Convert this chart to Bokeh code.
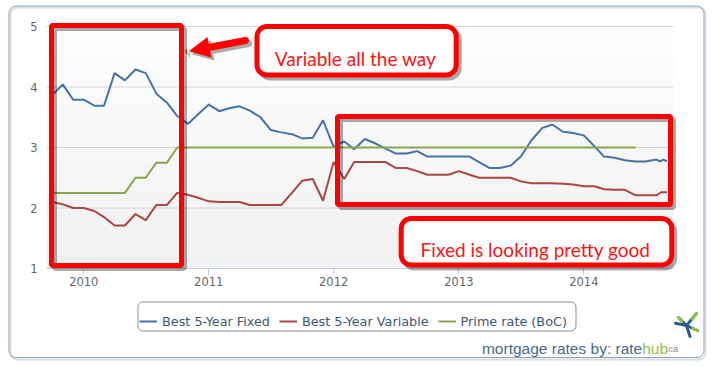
from datetime import datetime
import pandas as pd
from bokeh.plotting import figure
from bokeh.models import (Range1d, FixedTicker, DatetimeTickFormatter, BoxAnnotation,
                          Label, Arrow, NormalHead, Legend, LegendItem)
from bokeh.embed import file_html
from bokeh.resources import INLINE

# ---------------- data ----------------
fixed_dates = list(pd.date_range("2009-10-01", "2014-08-01", freq="MS")) + [
    pd.Timestamp("2014-08-12"), pd.Timestamp("2014-08-21"), pd.Timestamp("2014-09-01")]
fixed_rate = [3.87, 4.04, 3.79, 3.79, 3.69, 3.69, 4.23, 4.11, 4.29, 4.23,
              3.89, 3.74, 3.52, 3.39, 3.55, 3.71, 3.60, 3.65, 3.68, 3.61,
              3.50, 3.29, 3.25, 3.22, 3.15, 3.16, 3.45, 3.01, 3.10, 2.97,
              3.14, 3.07, 2.98, 2.90, 2.90, 2.94, 2.85, 2.85, 2.85, 2.85,
              2.85, 2.76, 2.66, 2.66, 2.70, 2.85, 3.12, 3.32, 3.38, 3.26,
              3.24, 3.20, 3.02, 2.85, 2.83, 2.79, 2.77, 2.77, 2.80,
              2.77, 2.80, 2.77]

variable_dates = list(pd.date_range("2009-10-01", "2014-08-01", freq="MS")) + [
    pd.Timestamp("2014-08-15"), pd.Timestamp("2014-09-01")]
variable_rate = [2.10, 2.06, 2.00, 2.00, 1.95, 1.85, 1.71, 1.71, 1.90, 1.80,
                 2.05, 2.05, 2.25, 2.22, 2.17, 2.11, 2.10, 2.10, 2.10, 2.05,
                 2.05, 2.05, 2.05, 2.25, 2.45, 2.48, 2.12, 2.76, 2.48, 2.76,
                 2.76, 2.76, 2.76, 2.66, 2.66, 2.61, 2.55, 2.55, 2.55, 2.61,
                 2.55, 2.50, 2.50, 2.50, 2.50, 2.44, 2.41, 2.41, 2.41, 2.40,
                 2.39, 2.36, 2.36, 2.31, 2.30, 2.30, 2.21, 2.21, 2.21,
                 2.26, 2.26]

prime_dates = list(pd.date_range("2009-10-01", "2014-06-01", freq="MS"))
prime_rate = [2.25, 2.25, 2.25, 2.25, 2.25, 2.25, 2.25, 2.25, 2.50, 2.50,
              2.75, 2.75, 3.00, 3.00, 3.00, 3.00, 3.00, 3.00, 3.00, 3.00,
              3.00, 3.00, 3.00, 3.00, 3.00, 3.00, 3.00, 3.00, 3.00, 3.00,
              3.00, 3.00, 3.00, 3.00, 3.00, 3.00, 3.00, 3.00, 3.00, 3.00,
              3.00, 3.00, 3.00, 3.00, 3.00, 3.00, 3.00, 3.00, 3.00, 3.00,
              3.00, 3.00, 3.00, 3.00, 3.00, 3.00, 3.00]

series_names = ["Best 5-Year Fixed", "Best 5-Year Variable", "Prime rate (BoC)"]
series_colors = ["#4572A7", "#AA4643", "#89A54E"]
year_ticks = ["2010", "2011", "2012", "2013", "2014"]
y_ticks = [1, 2, 3, 4, 5]
note_variable = "Variable all the way"
note_fixed = "Fixed is looking pretty good"

# ---------------- geometry ----------------
W, H = 716, 367
PL, PR, PT, PB = 46, 673, 26, 268            # plot area in canvas pixels
x0_ms = pd.Timestamp("2009-09-14").timestamp() * 1000
x1_ms = pd.Timestamp("2014-09-20").timestamp() * 1000
ms_per_px = (x1_ms - x0_ms) / (PR - PL)
y_lo, y_hi = y_ticks[0], y_ticks[-1]
val_per_px = (y_hi - y_lo) / (PB - PT)

p = figure(width=W, height=H, x_axis_type="datetime",
           x_range=Range1d(x0_ms - PL * ms_per_px, x1_ms + (W - PR) * ms_per_px),
           y_range=Range1d(y_lo - (H - PB) * val_per_px, y_hi + PT * val_per_px),
           output_backend="svg", toolbar_location=None,
           min_border_left=0, min_border_right=0, min_border_top=0, min_border_bottom=0)
p.title.visible = False
p.background_fill_color = "white"
p.border_fill_color = "white"
p.outline_line_color = None
p.xgrid.visible = False
p.ygrid.visible = False

# plot-area background (soft vertical gradient)
n_bands = 16
for i in range(n_bands):
    t = i / (n_bands - 1)
    g = int(round(241 + (253 - 241) * t))
    p.add_layout(BoxAnnotation(left=x0_ms, right=x1_ms,
                               bottom=y_lo + (y_hi - y_lo) * i / n_bands,
                               top=y_lo + (y_hi - y_lo) * (i + 1) / n_bands,
                               fill_color="#%02x%02x%02x" % (g, g, g), fill_alpha=1.0,
                               line_color=None, level="underlay"))

# horizontal grid lines limited to the plot area
p.segment(x0=[x0_ms] * len(y_ticks), y0=y_ticks, x1=[x1_ms] * len(y_ticks), y1=y_ticks,
          line_color="#d4d4d4", line_width=1)

# axes fixed on the plot-area edges
p.yaxis.fixed_location = x0_ms
p.yaxis.bounds = (y_lo, y_hi)
p.yaxis.ticker = FixedTicker(ticks=y_ticks)
p.yaxis.axis_line_color = None
p.yaxis.major_tick_line_color = None
p.yaxis.major_tick_out = 0
p.yaxis.major_tick_in = 0
p.yaxis.minor_tick_line_color = None
p.yaxis.major_label_standoff = 9
p.yaxis.major_label_text_font = "DejaVu Sans"
p.yaxis.major_label_text_font_size = "11.5px"
p.yaxis.major_label_text_color = "#666666"

p.xaxis.fixed_location = y_lo
p.xaxis.bounds = (x0_ms, x1_ms)
p.xaxis.ticker = FixedTicker(ticks=[pd.Timestamp(y + "-01-01").timestamp() * 1000 for y in year_ticks])
p.xaxis.formatter = DatetimeTickFormatter(years="%Y", months="%Y", days="%Y", hours="%Y")
p.xaxis.axis_line_color = "#c0d0e0"
p.xaxis.major_tick_line_color = "#c0d0e0"
p.xaxis.major_tick_out = 6
p.xaxis.major_tick_in = 0
p.xaxis.minor_tick_line_color = None
p.xaxis.major_label_standoff = 2
p.xaxis.major_label_text_font = "DejaVu Sans"
p.xaxis.major_label_text_font_size = "11.5px"
p.xaxis.major_label_text_color = "#666666"

r1 = p.line(fixed_dates, fixed_rate, color=series_colors[0], line_width=2)
r2 = p.line(variable_dates, variable_rate, color=series_colors[1], line_width=2)
r3 = p.line(prime_dates, prime_rate, color=series_colors[2], line_width=2)

# ---------------- annotations (screen units: x from left, y up from bottom of canvas) ----------------
def box(l, r, t, b, color, width, alpha=1.0, radius=0, fill=None):
    return BoxAnnotation(left=l, right=r, top=H - t, bottom=H - b,
                         left_units="screen", right_units="screen",
                         top_units="screen", bottom_units="screen",
                         line_color=color, line_width=width, line_alpha=alpha,
                         fill_color=fill, fill_alpha=1.0 if fill else 0.0,
                         border_radius=radius)

# outer chart border with faint shadow
p.add_layout(box(10, 705, 7, 359, "#dddddd", 2, radius=7))
p.add_layout(box(8.5, 703.5, 5.5, 357, "#8aa3c6", 1, radius=7))

# rounded legend frame, then the legend itself (transparent)
p.add_layout(box(137.5, 575.5, 301.5, 330.5, "#909090", 1, radius=5, fill="white"))
legend = Legend(items=[LegendItem(label=series_names[0], renderers=[r1]),
                       LegendItem(label=series_names[1], renderers=[r2]),
                       LegendItem(label=series_names[2], renderers=[r3])],
                orientation="horizontal", location=(139, H - 331),
                glyph_width=18, label_standoff=5, spacing=9, padding=5,
                label_text_font="DejaVu Sans", label_text_font_size="12.8px",
                label_text_color="#3e576f", border_line_color=None,
                background_fill_alpha=0.0, margin=0)
p.add_layout(legend)

shadow = "#000000"
# highlight rectangles (canvas px: left, right, top, bottom)
for (l, r, t, b) in [(51, 181, 25, 265), (337, 670, 116, 204)]:
    p.add_layout(box(l + 3, r + 3, t + 3, b + 3, shadow, 5, alpha=0.33))
    p.add_layout(box(l, r, t, b, "#ff0000", 5))

# callouts
for (l, r, t, b) in [(256.5, 455.7, 26, 74.5), (400.7, 671.3, 218, 264.5)]:
    p.add_layout(box(l + 3, r + 3, t + 3, b + 3, shadow, 5, alpha=0.33, radius=10))
    p.add_layout(box(l, r, t, b, "#ff0000", 5, radius=10, fill="white"))

for (txt, x, y) in [(note_variable, 355, 57.5), (note_fixed, 535, 248.5)]:
    p.add_layout(Label(x=x, y=H - y, x_units="screen", y_units="screen", text=txt,
                       text_align="center", text_baseline="alphabetic", text_font="Lato",
                       text_font_size="19px", text_color="#ff1111"))

# arrow pointing at the first rectangle
for (dx, dy, col, a) in [(3, 3, shadow, 0.33), (0, 0, "#ff0000", 1.0)]:
    p.add_layout(Arrow(x_start=245 + dx, y_start=H - 40 - dy, x_end=188.3 + dx, y_end=H - 50.7 - dy,
                       start_units="screen", end_units="screen",
                       line_color=col, line_alpha=a, line_width=7, line_cap="round",
                       end=NormalHead(size=21, fill_color=col, fill_alpha=a, line_color=None)))

# ratehub credit
p.add_layout(Label(x=641.7, y=H - 348, x_units="screen", y_units="screen", text="mortgage rates by: rate",
                   text_align="right", text_baseline="alphabetic", text_font="Liberation Sans",
                   text_font_size="15.5px", text_color="#4a6a8a"))
p.add_layout(Label(x=641.7, y=H - 348, x_units="screen", y_units="screen", text="hub",
                   text_align="left", text_baseline="alphabetic", text_font="Liberation Sans",
                   text_font_size="15.5px", text_color="#8cc63f"))
p.add_layout(Label(x=665.5, y=H - 348, x_units="screen", y_units="screen", text=".ca",
                   text_align="left", text_baseline="alphabetic", text_font="Liberation Sans",
                   text_font_size="9px", text_color="#888888"))

cx, cy = 686, 325
for (ex, ey, tip) in [(675, 322.7, False), (678, 317, True), (696, 313, True),
                      (697, 330, True), (689.5, 336, False)]:
    p.add_layout(Arrow(x_start=cx, y_start=H - cy, x_end=ex, y_end=H - ey, start=None, end=None,
                       start_units="screen", end_units="screen",
                       line_color="#2b5f8a", line_width=3, line_cap="round"))
    if tip:
        mx, my = cx + (ex - cx) * 0.55, cy + (ey - cy) * 0.55
        p.add_layout(Arrow(x_start=mx, y_start=H - my, x_end=ex, y_end=H - ey, start=None, end=None,
                           start_units="screen", end_units="screen",
                           line_color="#8cc63f", line_width=3, line_cap="round"))

open("out.html", "w").write(file_html(p, INLINE))
